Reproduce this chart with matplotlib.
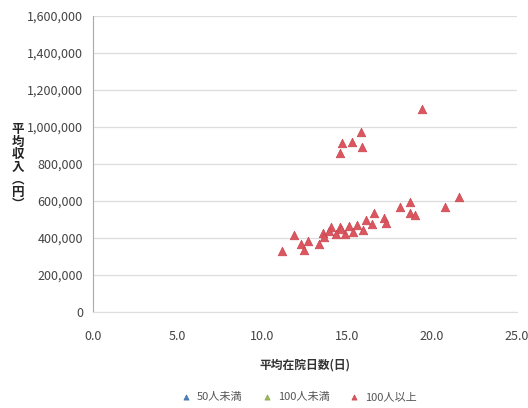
import matplotlib
matplotlib.use("Agg")
import matplotlib.pyplot as plt
from matplotlib.ticker import FuncFormatter

plt.rcParams["font.family"] = ["Noto Sans CJK JP", "DejaVu Sans"]

# data: average length of stay (days) vs average income (yen)
series_names = ["50人未満", "100人未満", "100人以上"]
series_colors = ["#4F81BD", "#9BBB59", "#DC5660"]
edge_colors = ["#3F6FA8", "#86A648", "#C8464F"]

stay_under50 = []
income_under50 = []
stay_under100 = []
income_under100 = []
stay_over100 = [
    19.4, 15.8, 14.7, 15.25, 15.85, 14.55,
    21.6, 20.75, 18.7, 18.1, 18.7, 19.0,
    16.6, 17.15, 17.3, 16.1, 16.45, 15.6, 15.95, 15.1, 14.55, 14.05,
    15.35, 14.85, 14.35, 13.55, 13.65, 13.35, 11.85, 12.7, 12.25, 12.45,
    11.15, 13.9, 14.6,
]
income_over100 = [
    1096000, 975000, 912000, 921000, 894000, 861000,
    623000, 569000, 593000, 569000, 533000, 524000,
    533000, 506000, 479000, 497000, 476000, 470000, 443000, 465000, 461000, 461000,
    434000, 422000, 422000, 429000, 407000, 368000, 416000, 385000, 368000, 335000,
    330000, 440000, 448000,
]

x_ticks = [0, 5, 10, 15, 20, 25]
y_ticks = list(range(0, 1600001, 200000))

fig = plt.figure(figsize=(5.28, 4.08), dpi=100)
ax = fig.add_axes([0.176, 0.235, 0.803, 0.726])

all_series = [
    (stay_under50, income_under50),
    (stay_under100, income_under100),
    (stay_over100, income_over100),
]
for (xs, ys), name, color, edge in zip(all_series, series_names, series_colors, edge_colors):
    ax.scatter(xs, ys, marker="^", s=38, color=color, edgecolors=edge,
               linewidths=0.5, label=name, zorder=3)

ax.set_xlim(0, 25)
ax.set_ylim(0, 1600000)
ax.set_xticks(x_ticks)
ax.set_yticks(y_ticks)
ax.xaxis.set_major_formatter(FuncFormatter(lambda v, _: f"{v:.1f}"))
ax.yaxis.set_major_formatter(FuncFormatter(lambda v, _: f"{int(v):,}"))
ax.tick_params(length=0, labelsize=9, colors="#444444", pad=7)
ax.tick_params(axis="x", pad=13)

ax.grid(axis="y", color="#DDDDDD", linewidth=0.9)
ax.set_axisbelow(True)
for side in ["top", "right"]:
    ax.spines[side].set_visible(False)
ax.spines["bottom"].set_color("#DDDDDD")
ax.spines["left"].set_color("#AAAAAA")

ax.set_xlabel("平均在院日数(日)", fontsize=8.5, fontweight="bold", color="#333333", labelpad=11)
fig.text(0.034, 0.59, "\n".join("平均収入︵円︶"), fontsize=9, fontweight="bold",
         color="#222222", ha="center", va="center", linespacing=0.95)

fig.legend(loc="lower center", bbox_to_anchor=(0.56, -0.01), ncol=3, frameon=False,
           fontsize=8, handletextpad=0.0, columnspacing=1.2, markerscale=0.6,
           labelcolor="#555555")

fig.savefig("out.png", dpi=100)
